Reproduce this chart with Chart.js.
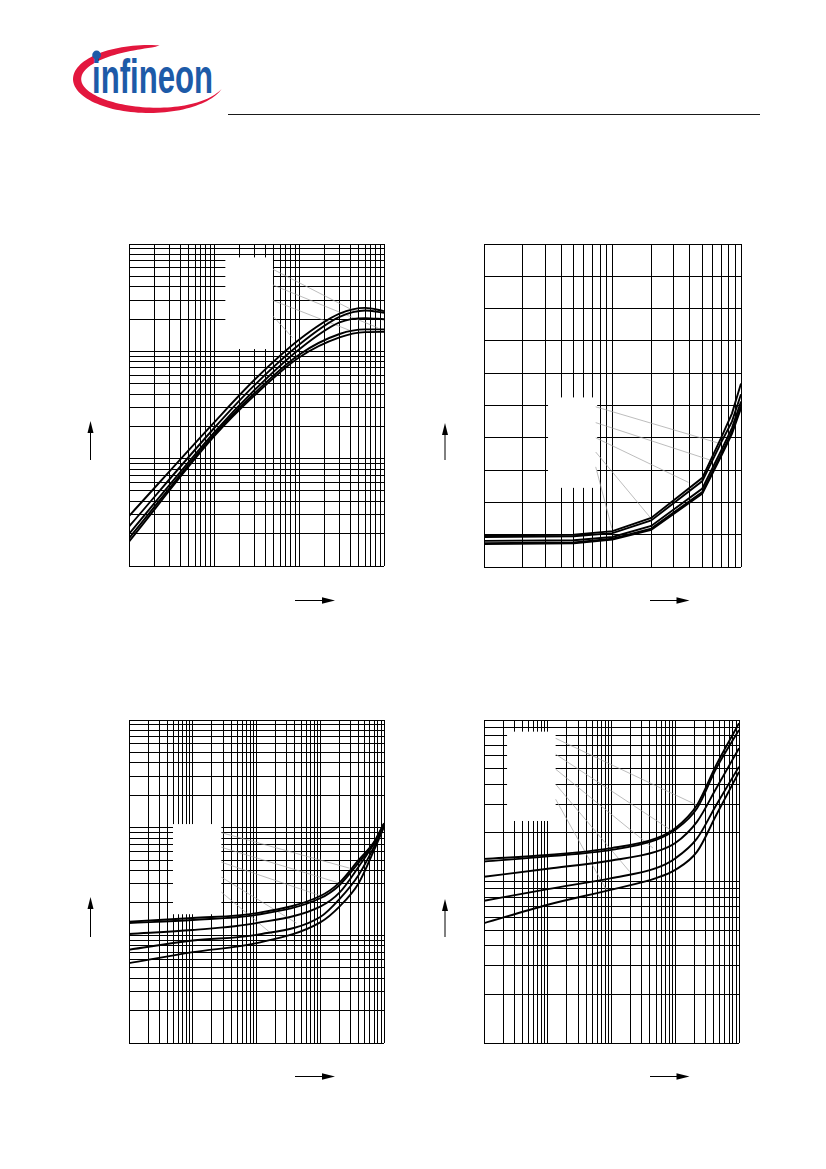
<!DOCTYPE html>
<html>
<head>
<meta charset="utf-8">
<script src="https://cdn.jsdelivr.net/npm/chart.js@4.4.1/dist/chart.umd.min.js"></script>
<style>
html,body{margin:0;padding:0;background:#fff;}
body{width:826px;height:1169px;position:relative;overflow:hidden;font-family:"Liberation Sans",Arial,sans-serif;}
.cw{position:absolute;}
.cw canvas{display:block;}
#ov{position:absolute;left:0;top:0;}
</style>
</head>
<body>
<svg id="ov" width="826" height="1169" xmlns="http://www.w3.org/2000/svg">
  <path id="swoosh" fill="#e3173e"></path>
  <text x="92" y="92.5" font-family="Liberation Sans, Arial, sans-serif" font-weight="700" font-size="48" fill="#1d5aa8" textLength="121" lengthAdjust="spacingAndGlyphs">infineon</text>
  <circle cx="96.6" cy="55" r="4.4" fill="#1d5aa8"></circle>
  <line x1="228" y1="114.5" x2="760" y2="114.5" stroke="#000" stroke-width="0.9"></line>
  <g id="arrows" stroke="#000" stroke-width="1" fill="#000"></g>
</svg>

<div class="cw" id="w1"><canvas id="c1"></canvas></div>
<div class="cw" id="w2"><canvas id="c2"></canvas></div>
<div class="cw" id="w3"><canvas id="c3"></canvas></div>
<div class="cw" id="w4"><canvas id="c4"></canvas></div>

<script>
// ---------------- DATA ----------------
// Chart 1 (top left): log x / log y, 5 curves
const c1X = [1, 10, 30, 100, 300, 600, 1000];
const c1A = [2.92, 21.7, 54.3, 128, 224, 254, 237];
const c1B = [2.33, 19.2, 48.4, 115, 209, 240, 229];
const c1C = [1.99, 17.5, 43.6, 104, 186, 204, 199];
const c1D = [1.81, 16.7, 40.7, 92.9, 145, 160, 160];
const c1E = [1.69, 16.1, 38.9, 87.7, 135, 151, 152];
const c1XRange = [1, 1000];
const c1YRange = [1, 1000];
const c1Box = [13.6, 49.4, 105, 750];            // x0, x1, y0, y1 (blank legend area)
const c1Leaders = [
  [49.4, 581, 490, 229],
  [49.4, 415, 843, 166],
  [49.4, 298, 409, 155],
  [49.4, 213, 84, 134]
];

// Chart 2 (top right): log x / linear y, 5 curves
const c2X = [1, 5, 10, 20, 50, 70, 85, 100];
const c2A = [0.98, 1.00, 1.11, 1.52, 2.76, 4.00, 4.75, 5.68];
const c2B = [0.93, 0.95, 1.05, 1.44, 2.66, 3.85, 4.50, 5.35];
const c2C = [0.81, 0.83, 0.93, 1.27, 2.43, 3.60, 4.30, 5.12];
const c2D = [0.74, 0.76, 0.88, 1.19, 2.32, 3.48, 4.18, 4.98];
const c2E = [0.71, 0.73, 0.85, 1.15, 2.27, 3.43, 4.12, 4.92];
const c2XRange = [1, 100];
const c2YRange = [0, 10];
const c2YTicks = [0, 1, 2, 3, 4, 5, 6, 7, 8, 9, 10];
const c2Box = [3.15, 7.6, 2.45, 5.25];
const c2Leaders = [
  [7.4, 4.96, 69, 3.82],
  [7.4, 4.47, 57.7, 3.31],
  [7.4, 4.00, 39, 2.62],
  [7.4, 3.56, 19.7, 1.53],
  [7.4, 3.10, 9.9, 1.19]
];

// Chart 3 (bottom left): log x (4 decades) / log y (3 decades)
const c3X = [1, 10, 100, 1000, 2000, 4000, 7000, 10000];
const c3A = [13.4, 14.5, 16.1, 23.2, 30.9, 50.1, 74.1, 110];
const c3B = [13.0, 13.9, 15.5, 22.1, 29.2, 47.4, 72.6, 108];
const c3C = [10.3, 11.2, 13.0, 18.5, 24.9, 43.4, 71.6, 107];
const c3D = [7.35, 8.95, 10.1, 14.8, 21.7, 36.4, 66.7, 105];
const c3E = [5.52, 6.98, 8.47, 13.2, 18.5, 30.5, 62.1, 102];
const c3XRange = [1, 10000];
const c3YRange = [1, 1000];
const c3Box = [4.9, 28.1, 15.7, 108];
const c3Leaders = [
  [28.1, 89.9, 2897, 42],
  [28.1, 65.8, 2020, 30.5],
  [28.1, 47.8, 1104, 22.9],
  [28.1, 34.7, 423, 13.0],
  [28.1, 25.2, 181, 10.1]
];

// Chart 4 (bottom right): log x (4 decades) / log y (2 decades)
const c4X = [1, 10, 100, 500, 1000, 2200, 4400, 10000];
const c4A = [13.8, 14.6, 16.1, 18.5, 21.4, 29.8, 52.7, 95.5];
const c4B = [13.3, 14.3, 15.7, 18.1, 20.9, 28.4, 50.2, 86.7];
const c4C = [10.7, 12.0, 13.5, 15.3, 17.3, 23.5, 37.8, 66.8];
const c4D = [7.59, 8.97, 10.5, 12.1, 13.9, 18.5, 29.8, 51.4];
const c4E = [5.52, 7.18, 8.91, 10.5, 11.8, 15.3, 25.8, 47.6];
const c4XRange = [1, 10000];
const c4YRange = [1, 100];
const c4Box = [2.3, 13.3, 23.7, 84.7];
const c4Leaders = [
  [13.3, 77.0, 2148, 29.8],
  [13.3, 61.4, 922, 20.4],
  [13.3, 49.6, 448, 16.1],
  [13.3, 40.0, 193, 11.5],
  [13.3, 32.3, 83, 8.88]
];

// grid multipliers inside each decade
const DECADE_STEPS = [1, 2, 3, 4, 5, 6, 7, 8, 9];

// ---------------- LAYOUT ----------------
const PAD = 2;
const AREAS = {
  1: {x: 129, y: 244, w: 255, h: 322},
  2: {x: 484, y: 244, w: 257, h: 323},
  3: {x: 129, y: 720, w: 255, h: 323},
  4: {x: 484, y: 720, w: 255, h: 323}
};

function logGrid(min, max) {
  const out = [];
  for (let d = min; d < max * 0.999; d *= 10) {
    for (const m of DECADE_STEPS) out.push(+(m * d).toPrecision(6));
  }
  out.push(max);
  return out;
}

const maskPlugin = {
  id: 'maskBox',
  beforeDatasetsDraw(chart, args, opts) {
    const b = opts.box;
    if (!b) return;
    const sx = chart.scales.x, sy = chart.scales.y, ctx = chart.ctx;
    const x0 = sx.getPixelForValue(b[0]), x1 = sx.getPixelForValue(b[1]);
    const y0 = sy.getPixelForValue(b[2]), y1 = sy.getPixelForValue(b[3]);
    ctx.save();
    ctx.fillStyle = '#fff';
    ctx.fillRect(Math.min(x0, x1), Math.min(y0, y1), Math.abs(x1 - x0), Math.abs(y1 - y0));
    ctx.restore();
  }
};

function build(id, spec) {
  const a = AREAS[id];
  const W = a.w + 2 * PAD, H = a.h + 2 * PAD;
  const wrap = document.getElementById('w' + id);
  wrap.style.left = (a.x - PAD) + 'px';
  wrap.style.top = (a.y - PAD) + 'px';
  wrap.style.width = W + 'px';
  wrap.style.height = H + 'px';
  const cv = document.getElementById('c' + id);
  cv.width = W; cv.height = H;
  cv.style.width = W + 'px'; cv.style.height = H + 'px';

  const datasets = spec.series.map(ys => ({
    data: spec.x.map((x, i) => ({x: x, y: ys[i]})),
    borderColor: '#000',
    borderWidth: 1.9,
    pointRadius: 0,
    fill: false,
    tension: spec.smooth ? 0.4 : 0,
    cubicInterpolationMode: spec.smooth ? 'monotone' : 'default',
    order: 1
  }));
  spec.leaders.forEach(L => datasets.push({
    data: [{x: L[0], y: L[1]}, {x: L[2], y: L[3]}],
    borderColor: '#a0a0a0',
    borderWidth: 0.7,
    pointRadius: 0,
    fill: false,
    tension: 0,
    order: 2
  }));

  const gridOpts = {color: '#000', lineWidth: 1, drawTicks: false};
  new Chart(cv, {
    type: 'line',
    data: {datasets: datasets},
    plugins: [maskPlugin],
    options: {
      responsive: false,
      animation: false,
      events: [],
      layout: {padding: PAD},
      plugins: {legend: {display: false}, tooltip: {enabled: false}, maskBox: {box: spec.box}},
      scales: {
        x: {
          type: 'logarithmic', min: spec.xRange[0], max: spec.xRange[1], bounds: 'data',
          ticks: {display: false}, grid: gridOpts, border: {display: false},
          afterBuildTicks: s => { s.ticks = spec.xGrid.map(v => ({value: v})); },
          afterFit: s => { s.height = 0; }
        },
        y: {
          type: spec.yType, min: spec.yRange[0], max: spec.yRange[1], bounds: 'data',
          ticks: {display: false}, grid: gridOpts, border: {display: false},
          afterBuildTicks: s => { s.ticks = spec.yGrid.map(v => ({value: v})); },
          afterFit: s => { s.width = 0; }
        }
      }
    }
  });
}

build(1, {x: c1X, series: [c1A, c1B, c1C, c1D, c1E], smooth: true,
  xRange: c1XRange, yRange: c1YRange, yType: 'logarithmic',
  xGrid: logGrid(c1XRange[0], c1XRange[1]), yGrid: logGrid(c1YRange[0], c1YRange[1]),
  box: c1Box, leaders: c1Leaders});
build(2, {x: c2X, series: [c2A, c2B, c2C, c2D, c2E], smooth: false,
  xRange: c2XRange, yRange: c2YRange, yType: 'linear',
  xGrid: logGrid(c2XRange[0], c2XRange[1]), yGrid: c2YTicks,
  box: c2Box, leaders: c2Leaders});
build(3, {x: c3X, series: [c3A, c3B, c3C, c3D, c3E], smooth: true,
  xRange: c3XRange, yRange: c3YRange, yType: 'logarithmic',
  xGrid: logGrid(c3XRange[0], c3XRange[1]), yGrid: logGrid(c3YRange[0], c3YRange[1]),
  box: c3Box, leaders: c3Leaders});
build(4, {x: c4X, series: [c4A, c4B, c4C, c4D, c4E], smooth: true,
  xRange: c4XRange, yRange: c4YRange, yType: 'logarithmic',
  xGrid: logGrid(c4XRange[0], c4XRange[1]), yGrid: logGrid(c4YRange[0], c4YRange[1]),
  box: c4Box, leaders: c4Leaders});

// ---------------- DECORATION: logo swoosh & axis arrows ----------------
(function () {
  const cx = 149, cy = 79, rx = 76, ry = 34, a0 = -82, a1 = -343, wmax = 8.2, N = 90;
  const outer = [], inner = [];
  for (let i = 0; i <= N; i++) {
    const s = i / N;
    const ang = (a0 + (a1 - a0) * s) * Math.PI / 180;
    const w = wmax * Math.pow(Math.max(0, Math.sin(Math.PI * Math.pow(s, 0.7))), 0.8);
    outer.push([cx + rx * Math.cos(ang), cy + ry * Math.sin(ang)]);
    inner.push([cx + (rx - w) * Math.cos(ang), cy + (ry - w) * Math.sin(ang)]);
  }
  let d = 'M' + outer.map(p => p[0].toFixed(2) + ' ' + p[1].toFixed(2)).join(' L');
  d += ' L' + inner.reverse().map(p => p[0].toFixed(2) + ' ' + p[1].toFixed(2)).join(' L') + ' Z';
  document.getElementById('swoosh').setAttribute('d', d);

  const NS = 'http://www.w3.org/2000/svg';
  const g = document.getElementById('arrows');
  function el(tag, attrs) {
    const e = document.createElementNS(NS, tag);
    for (const k in attrs) e.setAttribute(k, attrs[k]);
    g.appendChild(e);
  }
  // vertical arrows (x, tipY, endY)
  [[90.5, 421, 460], [445, 423, 460], [90.5, 897, 937], [445, 899, 937]].forEach(v => {
    el('line', {x1: v[0], y1: v[1] + 8, x2: v[0], y2: v[2]});
    el('polygon', {points: (v[0]) + ',' + v[1] + ' ' + (v[0] - 3) + ',' + (v[1] + 12) + ' ' + (v[0] + 3) + ',' + (v[1] + 12), stroke: 'none'});
  });
  // horizontal arrows (startX, tipX, y)
  [[295, 335, 600.5], [650, 689.5, 600.5], [295, 335, 1076.5], [650, 689.5, 1076.5]].forEach(h => {
    el('line', {x1: h[0], y1: h[2], x2: h[1] - 8, y2: h[2]});
    el('polygon', {points: h[1] + ',' + h[2] + ' ' + (h[1] - 13) + ',' + (h[2] - 3.3) + ' ' + (h[1] - 13) + ',' + (h[2] + 3.3), stroke: 'none'});
  });
})();
</script>
</body>
</html>
